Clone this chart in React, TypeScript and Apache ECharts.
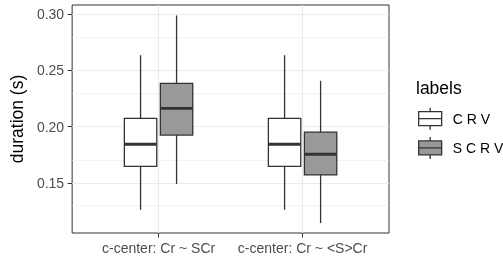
import React, { useEffect, useRef } from "react";
import * as echarts from "echarts";

const categories = ["c-center: Cr ~ SCr", "c-center: Cr ~ <S>Cr"];
const groupNames = ["C R V", "S C R V"];
// [low whisker, Q1, median, Q3, high whisker]
const crvStats = [
  [0.126, 0.1647, 0.1843, 0.2074, 0.2636],
  [0.126, 0.1647, 0.1843, 0.2074, 0.2636],
];
const scrvStats = [
  [0.149, 0.1925, 0.2163, 0.2385, 0.299],
  [0.1141, 0.157, 0.1754, 0.1952, 0.2408],
];
const yMajorTicks = [0.15, 0.2, 0.25, 0.3];
const yMinorTicks = [0.125, 0.175, 0.225, 0.275];

const FONT = "Liberation Sans, Arial, Helvetica, sans-serif";
const fills = ["#ffffff", "#999999"];
const stroke = "#333333";
const icon =
  "path://M11.5,0 L11.5,4 M0,4 L23,4 L23,18 L0,18 Z M0,11 L23,11 M11.5,18 L11.5,22";

function makeSeries(name: string, stats: number[][], offset: number, fill: string) {
  const halfW = 0.1125;
  return {
    name,
    type: "custom",
    z: 3,
    itemStyle: { color: fill, borderColor: stroke, borderWidth: 1.3 },
    encode: { x: 0, y: [1, 2, 3, 4, 5] },
    data: stats.map((s, i) => [i + 1, ...s]),
    renderItem: (params: any, api: any) => {
      const x = api.value(0) + offset;
      const lo = api.coord([x, api.value(1)]);
      const q1 = api.coord([x, api.value(2)]);
      const md = api.coord([x, api.value(3)]);
      const q3 = api.coord([x, api.value(4)]);
      const hi = api.coord([x, api.value(5)]);
      const left = api.coord([x - halfW, api.value(3)])[0];
      const right = api.coord([x + halfW, api.value(3)])[0];
      const ls = { stroke, lineWidth: 1.3 };
      return {
        type: "group",
        children: [
          { type: "line", shape: { x1: hi[0], y1: hi[1], x2: q3[0], y2: q3[1] }, style: ls },
          { type: "line", shape: { x1: q1[0], y1: q1[1], x2: lo[0], y2: lo[1] }, style: ls },
          {
            type: "rect",
            shape: { x: left, y: q3[1], width: right - left, height: q1[1] - q3[1] },
            style: { fill, stroke, lineWidth: 1.3 },
          },
          { type: "line", shape: { x1: left, y1: md[1], x2: right, y2: md[1] }, style: { stroke, lineWidth: 2.8 } },
        ],
      };
    },
  };
}

export default function App() {
  const ref = useRef<HTMLDivElement>(null);
  useEffect(() => {
    if (!ref.current) return;
    const chart = echarts.init(ref.current, null, { renderer: "svg" });
    const gridLine = (w: number) => ({ color: "#ebebeb", width: w, type: "solid" });
    chart.setOption({
      animation: false,
      textStyle: { fontFamily: FONT },
      grid: { left: 67, right: 114, top: 5, bottom: 27, show: true, borderColor: stroke, borderWidth: 1, backgroundColor: "#ffffff" },
      title: {
        text: "labels",
        left: 416,
        top: 79,
        padding: 0,
        textStyle: { fontSize: 17.5, fontWeight: "normal", color: "#000000", fontFamily: FONT },
      },
      legend: {
        orient: "vertical",
        left: 418,
        top: 107,
        padding: 0,
        itemWidth: 23,
        itemHeight: 22,
        itemGap: 6,
        icon,
        textStyle: { fontSize: 14, color: "#000000", fontFamily: FONT, padding: [0, 0, 0, 6] },
        data: groupNames.map((n, i) => ({
          name: n,
          itemStyle: { color: fills[i], borderColor: stroke, borderWidth: 1.3 },
        })),
      },
      xAxis: {
        type: "value",
        min: 0.4,
        max: 2.6,
        axisLine: { show: false },
        splitLine: { show: false },
        axisTick: { show: true, length: 4.5, customValues: [1, 2], lineStyle: { color: stroke, width: 1 } },
        axisLabel: {
          customValues: [1, 2],
          margin: 8,
          fontSize: 14,
          color: "#4d4d4d",
          formatter: (v: number) => categories[Math.round(v) - 1] ?? "",
        },
      },
      yAxis: {
        type: "value",
        min: 0.1053,
        max: 0.3083,
        name: "duration (s)",
        nameLocation: "middle",
        nameRotate: 90,
        nameGap: 46,
        nameTextStyle: { fontSize: 17.5, color: "#000000", fontFamily: FONT },
        axisLine: { show: false },
        splitLine: { show: false },
        axisTick: { show: true, length: 4.5, customValues: yMajorTicks, lineStyle: { color: stroke, width: 1 } },
        axisLabel: {
          customValues: yMajorTicks,
          margin: 8,
          fontSize: 14,
          color: "#4d4d4d",
          formatter: (v: number) => v.toFixed(2),
        },
      },
      series: [
        {
          name: "grid",
          type: "line",
          data: [],
          silent: true,
          markLine: {
            silent: true,
            z: 1,
            symbol: "none",
            label: { show: false },
            lineStyle: gridLine(0.6),
            data: [
              ...yMinorTicks.map((v) => ({ yAxis: v, lineStyle: gridLine(0.6) })),
              ...yMajorTicks.map((v) => ({ yAxis: v, lineStyle: gridLine(1.2) })),
              ...[1, 2].map((v) => ({ xAxis: v, lineStyle: gridLine(1.2) })),
            ],
          },
        },
        makeSeries(groupNames[0], crvStats, -0.125, fills[0]),
        makeSeries(groupNames[1], scrvStats, 0.125, fills[1]),
      ],
    });
    return () => chart.dispose();
  }, []);
  return <div ref={ref} style={{ position: "fixed", left: 0, top: 0, width: 503, height: 260 }} />;
}
